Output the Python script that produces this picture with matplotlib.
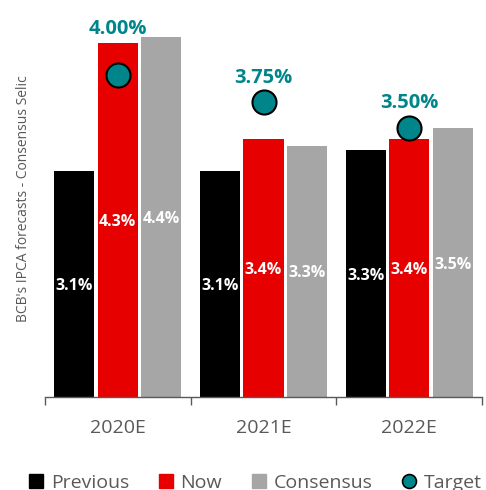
import matplotlib
matplotlib.use("Agg")
import matplotlib.pyplot as plt
from matplotlib.lines import Line2D
import numpy as np

plt.rcParams['font.family'] = ['Open Sans', 'DejaVu Sans']

categories = ["2020E", "2021E", "2022E"]
previous = [3.1, 3.1, 3.3]
now = [4.3, 3.4, 3.4]
consensus = [4.35, 3.34, 3.5]
previous_labels = ["3.1%", "3.1%", "3.3%"]
now_labels = ["4.3%", "3.4%", "3.4%"]
consensus_labels = ["4.4%", "3.3%", "3.5%"]
target = [4.00, 3.75, 3.50]
target_labels = ["4.00%", "3.75%", "3.50%"]

c_prev = "#000000"
c_now = "#E60000"
c_cons = "#A6A6A6"
c_teal = "#00868A"
c_text = "#595959"

fig = plt.figure(figsize=(4.86, 4.90), dpi=100)
ax = fig.add_axes([45/486, (490-397)/490, 437/486, 397/490])

x = np.arange(len(categories))
off = 0.2986
w = 0.275
base = 1.0

series = [(previous, previous_labels, c_prev, -off),
          (now, now_labels, c_now, 0.0),
          (consensus, consensus_labels, c_cons, off)]
for vals, labs, col, dx in series:
    heights = [v - base for v in vals]
    ax.bar(x + dx, heights, width=w, bottom=base, color=col, zorder=2)
    for xi, v, lab in zip(x, vals, labs):
        ax.text(xi + dx, (v + base) / 2 - 0.02, lab, ha='center', va='center',
                color='white', fontsize=11.5, fontweight='bold', zorder=3)

ax.scatter(x, target, s=300, color=c_teal, edgecolor='black', linewidth=1.5, zorder=4)
label_offsets = [33, 17, 18.5]
for xi, t, lab, o in zip(x, target, target_labels, label_offsets):
    ax.annotate(lab, (xi, t), xytext=(0, o), textcoords='offset points',
                ha='center', va='center', color=c_teal, fontsize=14.5, fontweight='bold', zorder=5)

ax.set_xlim(-0.5, 2.5)
ax.set_ylim(base, base + 397/107.4)

for s in ['top', 'right', 'left']:
    ax.spines[s].set_visible(False)
ax.spines['bottom'].set_color(c_text)
ax.spines['bottom'].set_linewidth(1.0)

ax.set_yticks([])
ax.set_xticks([-0.5, 0.5, 1.5, 2.5])
ax.set_xticklabels([])
ax.tick_params(axis='x', which='major', length=6, color=c_text, direction='out', width=1.0)
ax.set_xticks(x, minor=True)
ax.set_xticklabels(categories, minor=True)
ax.tick_params(axis='x', which='minor', length=0, pad=16, labelsize=14, labelcolor=c_text)

ax.set_ylabel("BCB's IPCA forecasts - Consensus Selic", color=c_text, fontsize=10)
ax.yaxis.set_label_coords(-0.033, 0.5)

handles = [Line2D([], [], marker='s', linestyle='none', markersize=10, color=c_prev),
           Line2D([], [], marker='s', linestyle='none', markersize=10, color=c_now),
           Line2D([], [], marker='s', linestyle='none', markersize=10, color=c_cons),
           Line2D([], [], marker='o', linestyle='none', markersize=10, markerfacecolor=c_teal,
                  markeredgecolor='black', markeredgewidth=1.2)]
leg = fig.legend(handles, ["Previous", "Now", "Consensus", "Target"], loc='center',
                 bbox_to_anchor=(0.525, 0.014), ncol=4, frameon=False, fontsize=14,
                 handlelength=0.8, handletextpad=0.35, columnspacing=1.5, borderpad=0)
for t in leg.get_texts():
    t.set_color(c_text)

fig.savefig("out.png", dpi=100)
